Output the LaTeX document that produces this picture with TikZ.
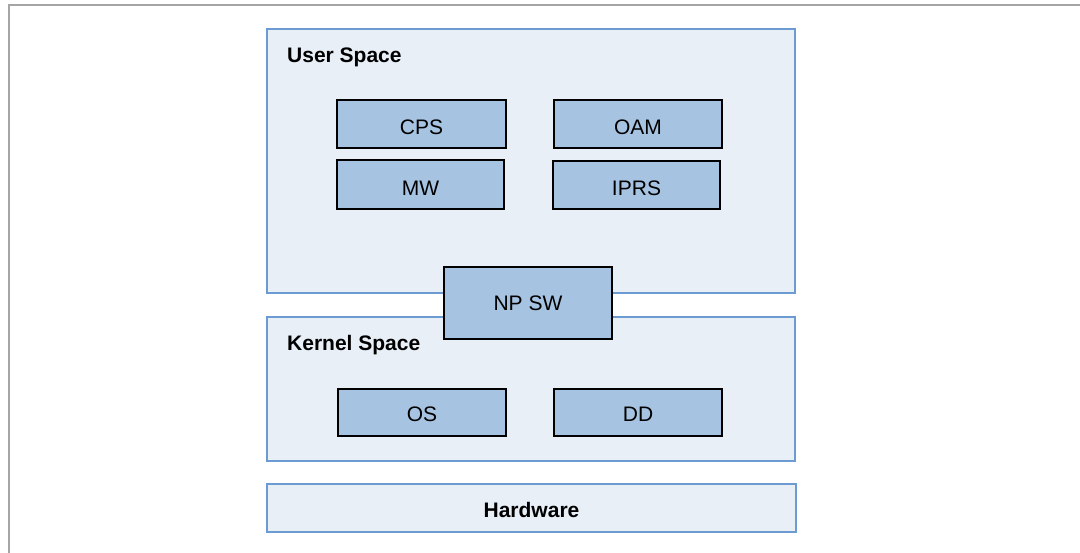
\documentclass[tikz,border=0pt]{standalone}
\usepackage{fontspec}
\setmainfont{Liberation Sans}
\definecolor{outerfill}{RGB}{232,239,247}
\definecolor{outerdraw}{RGB}{108,155,210}
\definecolor{innerfill}{RGB}{166,195,226}
\definecolor{framegray}{RGB}{165,165,165}
\tikzset{
  layer/.style={draw=outerdraw, fill=outerfill, line width=2pt},
  comp/.style={draw=black, fill=innerfill, line width=1.6pt, font=\fontsize{21}{24}\selectfont, inner sep=0pt, text height=22pt, text depth=0pt},
  title/.style={font=\fontsize{21}{24}\selectfont\bfseries, anchor=base west, inner sep=0pt}
}
\begin{document}
\begin{tikzpicture}[x=1pt,y=-1pt]
\useasboundingbox (0,0) rectangle (1080,553);
\draw[framegray, line width=2pt] (9,560) -- (9,5.5) -- (1090,5.5);
% layers
\node[layer, minimum width=528pt, minimum height=264pt, anchor=north west] (user) at (266,28) {};
\node[layer, minimum width=528pt, minimum height=144pt, anchor=north west] (kernel) at (266,316) {};
\node[layer, minimum width=529pt, minimum height=48pt, anchor=north west, font=\fontsize{21}{24}\selectfont\bfseries, text height=19pt, text depth=0pt] (hw) at (266,483) {Hardware};
\node[title] (usert) at (287,63) {User Space};
\node[title] (kernelt) at (287,351) {Kernel Space};
% components
\node[comp, minimum width=169pt, minimum height=48pt] (cps) at (421.5,124) {CPS};
\node[comp, minimum width=168pt, minimum height=48pt] (oam) at (638,124) {OAM};
\node[comp, minimum width=167pt, minimum height=49pt] (mw) at (420.5,184.5) {MW};
\node[comp, minimum width=167pt, minimum height=48pt] (iprs) at (636.5,185) {IPRS};
\node[comp, minimum width=168pt, minimum height=72pt, text height=15pt] (npsw) at (528,303) {NP SW};
\node[comp, minimum width=168pt, minimum height=47pt, text height=19pt] (os) at (422,412.5) {OS};
\node[comp, minimum width=168pt, minimum height=47pt, text height=19pt] (dd) at (638,412.5) {DD};
\end{tikzpicture}
\end{document}
